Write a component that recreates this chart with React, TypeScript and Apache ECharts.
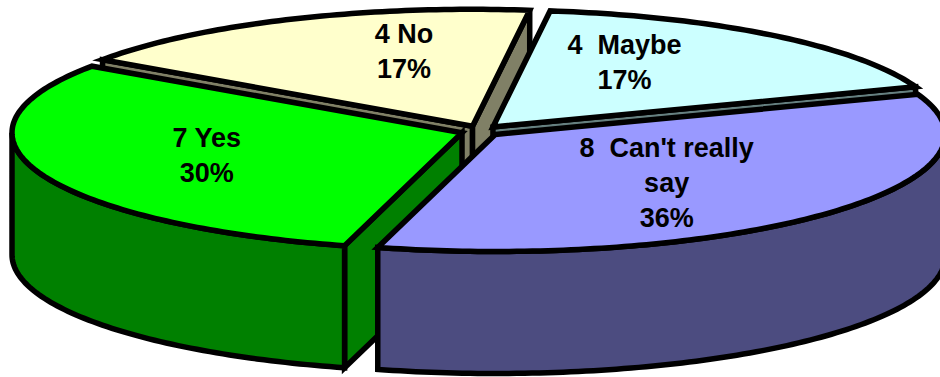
import React, { useEffect, useRef } from "react";
import * as echarts from "echarts";

// ---- data ----
const categories = ["Maybe", "Can't really say", "Yes", "No"];
const counts = [4, 8, 7, 4];
const labelNames = ["4  Maybe", "8  Can't really\nsay", "7 Yes", "4 No"];
const percentLabels = ["17%", "36%", "30%", "17%"];

// ---- styling ----
const topColors = ["#CCFFFF", "#9999FF", "#00FF00", "#FFFFCC"];
const sideColors = ["#668080", "#4C4C80", "#008000", "#808066"];

// ---- layout of the 3D pie (pixels / degrees) ----
const CX = 480.6;
const CY = 131;
const RX = 450;
const RY = 117;
const DEPTH = 122;
const EXPLODE = 0.044;
const FIRST_ANGLE = 7.3;
const LABEL_FX0 = 0.2;
const LABEL_FX1 = 0.43;
const LABEL_FY = 0.66;
const LABEL_DY = -4;
const OUTLINE = 5.5;

const rad = (d: number) => (d * Math.PI) / 180;

function arcPoints(cx: number, cy: number, a0: number, a1: number, dy: number) {
  const pts: number[][] = [];
  const n = Math.max(2, Math.ceil(Math.abs(a1 - a0)));
  for (let k = 0; k <= n; k++) {
    const t = rad(a0 + ((a1 - a0) * k) / n);
    pts.push([cx + RX * Math.sin(t), cy - RY * Math.cos(t) + dy]);
  }
  return pts;
}

export default function App() {
  const ref = useRef<HTMLDivElement>(null);

  useEffect(() => {
    const el = ref.current!;
    const chart = echarts.init(el, null, { renderer: "svg" });

    const total = counts.reduce((s, v) => s + v, 0);
    const items: { idx: number; start: number; end: number; mid: number }[] = [];
    let acc = FIRST_ANGLE;
    counts.forEach((v, i) => {
      const sweep = (v / total) * 360;
      items.push({ idx: i, start: acc, end: acc + sweep, mid: acc + sweep / 2 });
      acc += sweep;
    });
    // back-to-front: most northern slice first
    items.sort((p, q) => Math.cos(rad(q.mid)) - Math.cos(rad(p.mid)));
    const data = items.map((it) => ({ name: categories[it.idx], value: [it.idx, it.start, it.end] }));

    const strokeStyle = (fill: string) => ({
      fill,
      stroke: "#000",
      lineWidth: OUTLINE,
      lineJoin: "miter" as const,
    });

    const renderItem = (_params: any, api: any) => {
      const i = api.value(0) as number;
      const s = api.value(1) as number;
      const e = api.value(2) as number;
      const mid = (s + e) / 2;
      const sm = Math.sin(rad(mid));
      const cm = Math.cos(rad(mid));
      const cx = CX + EXPLODE * RX * sm;
      const cy = CY - EXPLODE * RY * cm;
      const children: any[] = [];

      // radial cut faces
      const face = (ang: number) => {
        const ox = cx + RX * Math.sin(rad(ang));
        const oy = cy - RY * Math.cos(rad(ang));
        return {
          type: "polygon",
          shape: { points: [[cx, cy], [ox, oy], [ox, oy + DEPTH], [cx, cy + DEPTH]] },
          style: strokeStyle(sideColors[i]),
        };
      };
      if (Math.sin(rad(s)) < 0) children.push(face(s));
      if (Math.sin(rad(e)) > 0) children.push(face(e));

      // outer curved wall (front half only)
      [[90, 270], [450, 630]].forEach(([lo, hi]) => {
        const a0 = Math.max(s, lo);
        const a1 = Math.min(e, hi);
        if (a1 > a0) {
          const top = arcPoints(cx, cy, a0, a1, 0);
          const bottom = arcPoints(cx, cy, a0, a1, DEPTH).reverse();
          children.push({
            type: "polygon",
            shape: { points: top.concat(bottom) },
            style: strokeStyle(sideColors[i]),
          });
        }
      });

      // top face
      children.push({
        type: "polygon",
        shape: { points: [[cx, cy]].concat(arcPoints(cx, cy, s, e, 0)) },
        style: strokeStyle(topColors[i]),
      });

      // label
      const fx = LABEL_FX0 + LABEL_FX1 * Math.abs(sm);
      const lx = cx + fx * RX * sm;
      const ly = cy - LABEL_FY * RY * cm + LABEL_DY;
      children.push({
        type: "text",
        z2: 100,
        style: {
          text: labelNames[i] + "\n" + percentLabels[i],
          x: lx,
          y: ly,
          align: "center",
          verticalAlign: "middle",
          fill: "#000",
          fontSize: 27,
          fontWeight: "bold",
          fontFamily: "'Liberation Sans', Arial, sans-serif",
          lineHeight: 35,
        },
      });

      return { type: "group", children };
    };

    chart.setOption({
      animation: false,
      backgroundColor: "#ffffff",
      series: [
        {
          type: "custom",
          coordinateSystem: "none",
          renderItem,
          data,
          silent: true,
        },
      ],
    });

    return () => chart.dispose();
  }, []);

  return (
    <div
      ref={ref}
      style={{ position: "fixed", left: 0, top: 0, width: 940, height: 377, background: "#fff" }}
    />
  );
}
